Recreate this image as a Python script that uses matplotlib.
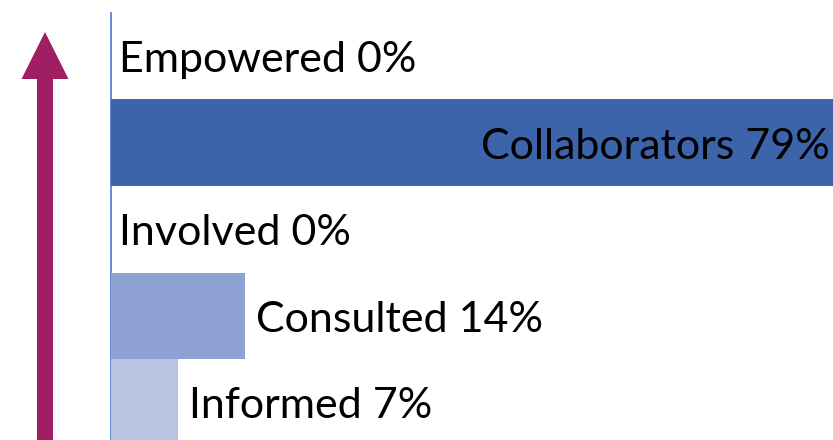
import matplotlib.pyplot as plt

# Participation levels, bottom to top
LEVELS = ["Informed", "Consulted", "Involved", "Collaborators", "Empowered"]
SHARES = [7, 14, 0, 79, 0]
BAR_COLORS = ["#b9c3e2", "#8ea3d4", "#8ea3d4", "#3c64ab", "#3c64ab"]

ARROW = "#a01f62"
AXIS_LINE = "#4a78c8"
XMAX = 75.4  # visible part of the scale (the 79% bar runs off the edge)

plt.rcParams.update({
    "font.family": ["Lato", "DejaVu Sans"],
    "text.color": "black",
})

W, H = 833, 440
fig = plt.figure(figsize=(W / 100, H / 100), dpi=100)

# arrow on the left, drawn in pixel space
bg = fig.add_axes([0, 0, 1, 1])
bg.set_xlim(0, W)
bg.set_ylim(H, 0)
bg.axis("off")
bg.arrow(45, H + 5, 0, -(H + 5 - 32), width=16, head_width=47, head_length=47,
         length_includes_head=True, color=ARROW, lw=0)

# bar chart
top_px, pitch = 13, 86.5
height_px = pitch * len(LEVELS)
ax = fig.add_axes([111 / W, 1 - (top_px + height_px) / H, 1 - 111 / W, height_px / H])
ax.patch.set_alpha(0)
ypos = range(len(LEVELS))
ax.barh(ypos, SHARES, height=1.0, color=BAR_COLORS, zorder=3)
ax.set_xlim(0, XMAX)
ax.set_ylim(-0.5, len(LEVELS) - 0.5)

for s in ["top", "right", "bottom"]:
    ax.spines[s].set_visible(False)
ax.spines["left"].set_color(AXIS_LINE)
ax.spines["left"].set_linewidth(1.2)
ax.set_xticks([])
ax.set_yticks([])

for y, (name, v) in enumerate(zip(LEVELS, SHARES)):
    label = f"{name} {v}%"
    if v > XMAX:
        ax.annotate(label, (XMAX, y), xytext=(-2, -3), textcoords="offset points",
                    ha="right", va="center", fontsize=31, zorder=4)
    else:
        pad = 6 if v == 0 else 8
        ax.annotate(label, (v, y), xytext=(pad, -3), textcoords="offset points",
                    ha="left", va="center", fontsize=31, zorder=4)

fig.savefig("out.png", dpi=100)
